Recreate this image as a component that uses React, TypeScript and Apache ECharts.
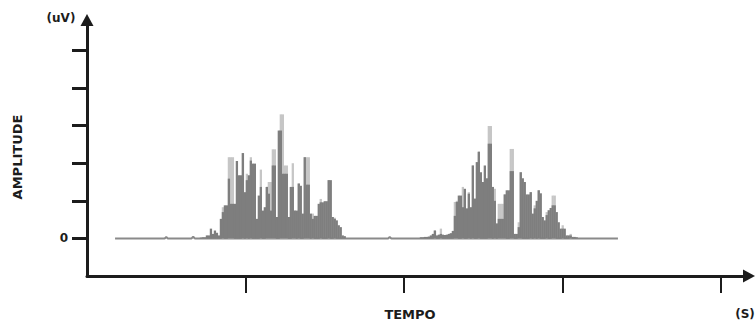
import { useEffect, useRef } from "react";
import * as echarts from "echarts";

// Rectified EMG-style recording: two activation bursts on a flat baseline.
const SAMPLE_DT = 0.0126; // seconds between samples
const BURST1_START = 0.719; // s
const BURST2_START = 2.107; // s

// Amplitudes in uV (dark trace)
const BURST1_DARK = [
  0.02, 0.03, 0.03, 0.08, 0.08, 0.26, 0.12, 0.21, 0.15, 0.08,
  0.52, 0.70, 0.88, 0.88, 1.59, 0.92, 0.92, 0.92, 2.06, 1.68,
  1.68, 2.27, 1.23, 1.55, 1.68, 2.07, 1.99, 1.99, 0.52, 1.14,
  1.37, 0.74, 0.83, 1.37, 1.19, 0.74, 1.94, 1.94, 0.57, 2.87,
  2.87, 1.72, 1.72, 1.72, 0.57, 1.37, 1.37, 0.74, 0.74, 1.46,
  1.40, 0.66, 2.16, 1.43, 1.43, 0.66, 0.52, 0.60, 0.60, 0.92,
  0.96, 0.96, 0.99, 0.99, 1.55, 1.55, 0.57, 0.52, 0.48, 0.35,
  0.30, 0.08, 0.06,
];
// Lighter overshoot spikes behind the dark trace
const BURST1_LIGHT = [
  0, 0, 0, 0, 0, 0, 0, 0, 0, 0,
  0, 0.83, 0, 0, 2.16, 2.16, 2.16, 0, 0, 0,
  0, 2.27, 0, 1.72, 0, 2.16, 0, 0, 0, 0,
  1.83, 0, 0, 1.37, 1.50, 1.50, 2.37, 2.37, 0, 0,
  3.30, 3.30, 1.94, 1.94, 0, 0, 2.00, 0.74, 0, 1.46,
  0, 0, 2.16, 2.16, 2.16, 0, 0.66, 0, 0, 0,
  1.05, 0, 0, 0, 1.55, 0, 0, 0.55, 0, 0,
  0, 0, 0,
];

const BURST2_DARK = [
  0.03, 0.03, 0.04, 0.04, 0.05, 0.08, 0.12, 0.21, 0.08, 0.10,
  0.12, 0.10, 0.09, 0.10, 0.12, 0.14, 0.20, 0.60, 0.97, 1.14,
  1.14, 0.83, 1.32, 0.80, 1.19, 0.83, 1.94, 1.06, 2.03, 2.30,
  1.76, 1.50, 1.94, 1.60, 2.52, 2.52, 1.37, 1.00, 0.40, 0.52,
  0.52, 0.52, 1.17, 1.28, 1.28, 1.79, 1.79, 0.12, 0.12, 0.30,
  1.76, 1.60, 1.50, 1.17, 1.17, 1.23, 0.66, 0.80, 1.00, 1.28,
  1.20, 0.57, 0.48, 0.62, 0.75, 0.81, 0.88, 0.88, 0.70, 0.43,
  0.26, 0.26, 0.26, 0.08, 0.08, 0.08, 0.04, 0.04, 0.03,
];
const BURST2_LIGHT = [
  0, 0, 0, 0, 0, 0, 0, 0.21, 0, 0,
  0.26, 0, 0, 0, 0, 0, 0, 0.97, 1.00, 0,
  0, 1.37, 0, 0, 1.23, 0, 1.94, 0, 0, 2.32,
  0, 0, 0, 0, 2.99, 2.99, 0, 1.32, 0, 0.92,
  0.92, 0.92, 1.17, 0, 0, 2.38, 2.38, 0, 0, 0.43,
  1.76, 0, 0, 0, 0, 1.23, 0, 0.88, 0, 1.28,
  0, 0, 0, 0.70, 0, 0, 1.14, 1.14, 0, 0,
  0, 0.35, 0, 0, 0, 0.12, 0, 0, 0,
];

// Resting baseline between and around the bursts
const BASELINE_T = [0.177, 0.49, 0.5, 0.51, 0.66, 0.67, 0.68, 0.72, 1.63, 1.9, 1.91, 1.92, 2.11, 3.1, 3.35];
const BASELINE_V = [0, 0, 0.04, 0, 0, 0.05, 0, 0, 0, 0, 0.04, 0, 0, 0, 0];

const Y_TICKS = [0, 1, 2, 3, 4, 5];
const Y_LABELS = [0];
const X_TICKS = [1, 2, 3, 4];

const DARK = "#7e7e7e";
const LIGHT = "#c6c6c6";
const INK = "#1c1c1c";
const FONT = '"DejaVu Sans", "Liberation Sans", sans-serif';

const toPairs = (start: number, values: number[]) =>
  values.map((v, i) => [start + i * SAMPLE_DT, v]);

const textStyle = (text: string, size: number) => ({
  text,
  fill: INK,
  font: `bold ${size}px ${FONT}`,
  align: "center",
  verticalAlign: "middle",
  textAlign: "center",
  textVerticalAlign: "middle",
});

export default function App() {
  const ref = useRef<HTMLDivElement>(null);

  useEffect(() => {
    document.body.style.margin = "0";
    if (!ref.current) return;
    const chart = echarts.init(ref.current, undefined, { renderer: "svg" });

    const lightData = [...toPairs(BURST1_START, BURST1_LIGHT), ...toPairs(BURST2_START, BURST2_LIGHT)];
    const darkData = [...toPairs(BURST1_START, BURST1_DARK), ...toPairs(BURST2_START, BURST2_DARK)];
    const baseData = BASELINE_T.map((t, i) => [t, BASELINE_V[i]]);

    chart.setOption({
      animation: false,
      backgroundColor: "#ffffff",
      grid: { left: 87, top: 20, right: 6, bottom: 46 },
      xAxis: {
        type: "value",
        min: 0,
        max: 4.177,
        splitLine: { show: false },
        axisLine: {
          show: true,
          onZero: false,
          lineStyle: { color: INK, width: 3 },
          symbol: ["none", "triangle"],
          symbolSize: [13, 12],
        },
        axisTick: {
          show: true,
          inside: false,
          length: 17,
          customValues: X_TICKS,
          lineStyle: { color: INK, width: 2 },
        },
        axisLabel: { show: false },
      },
      yAxis: {
        type: "value",
        min: -1,
        max: 5.81,
        splitLine: { show: false },
        axisLine: {
          show: true,
          onZero: false,
          lineStyle: { color: INK, width: 3 },
          symbol: ["none", "triangle"],
          symbolSize: [13, 12],
        },
        axisTick: {
          show: true,
          inside: false,
          length: 15,
          customValues: Y_TICKS,
          lineStyle: { color: INK, width: 3 },
        },
        axisLabel: {
          show: true,
          customValues: Y_LABELS,
          margin: 19,
          color: INK,
          fontWeight: "bold",
          fontSize: 12,
          fontFamily: FONT,
        },
      },
      graphic: [
        { type: "text", x: 61, y: 18, style: textStyle("(uV)", 12) },
        { type: "text", x: 17, y: 157, rotation: Math.PI / 2, style: textStyle("AMPLITUDE", 13) },
        { type: "text", x: 410, y: 314, style: textStyle("TEMPO", 13) },
        { type: "text", x: 745, y: 314, style: textStyle("(S)", 12) },
      ],
      series: [
        {
          type: "line",
          data: baseData,
          symbol: "none",
          lineStyle: { color: "#8a8a8a", width: 2 },
          z: 1,
        },
        {
          type: "bar",
          data: lightData,
          barWidth: 2.3,
          barGap: "-100%",
          itemStyle: { color: LIGHT },
          z: 2,
        },
        {
          type: "bar",
          data: darkData,
          barWidth: 2.3,
          barGap: "-100%",
          itemStyle: { color: DARK },
          z: 3,
        },
      ],
    });

    return () => chart.dispose();
  }, []);

  return <div ref={ref} style={{ width: 755, height: 322 }} />;
}
